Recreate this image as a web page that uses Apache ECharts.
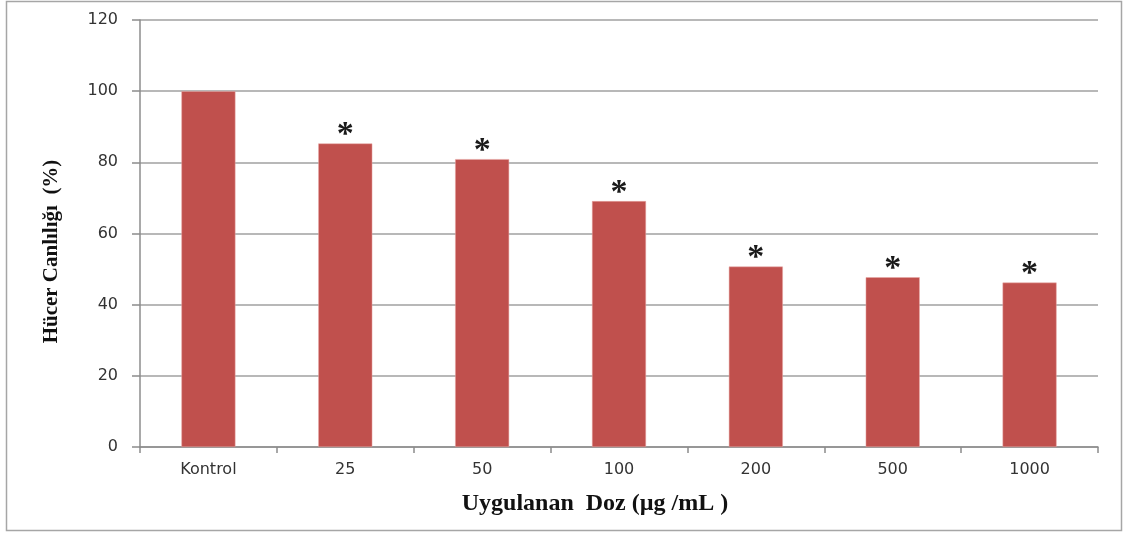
<!DOCTYPE html>
<html>
<head>
<meta charset="utf-8">
<script src="https://cdn.jsdelivr.net/npm/echarts@6/dist/echarts.min.js"></script>
<style>
  html, body { margin: 0; padding: 0; background: #fff; }
  #chart { width: 1123px; height: 534px; }
</style>
</head>
<body>
<div id="chart"></div>
<script>
// doz kategorileri
var doses = ["Kontrol", "25", "50", "100", "200", "500", "1000"];
// hücre canlılığı (%)
var viability = [100, 85.3, 80.9, 69.1, 50.7, 47.7, 46.2];
// anlamlılık işareti
var marks = ["", "*", "*", "*", "*", "*", "*"];
var yTicks = [0, 20, 40, 60, 80, 100, 120];

var myChart = echarts.init(document.getElementById("chart"));
myChart.setOption({
  animation: false,
  backgroundColor: "#fff",
  grid: {
    left: 140,
    right: 25,
    top: 20,
    bottom: 87,
  },
  graphic: [
    {
      type: "rect",
      shape: { x: 6.5, y: 1.5, width: 1115, height: 529 },
      style: { fill: "none", stroke: "#a6a6a6", lineWidth: 1.5 },
      silent: true,
    },
  ],
  xAxis: {
    type: "category",
    data: doses,
    name: "Uygulanan  Doz (µg /mL )",
    nameLocation: "middle",
    nameGap: 45,
    nameTextStyle: {
      fontFamily: "Liberation Serif",
      fontWeight: "bold",
      fontSize: 24,
      color: "#111",
      padding: [0, 48, 0, 0],
    },
    axisLine: { lineStyle: { color: "#8c8c8c", width: 1.5 } },
    axisTick: { show: true, length: 6, lineStyle: { color: "#8c8c8c", width: 1.5 } },
    axisLabel: {
      margin: 15,
      fontFamily: "DejaVu Sans",
      fontSize: 16,
      color: "#333",
    },
  },
  yAxis: {
    type: "value",
    min: 0,
    max: 120,
    interval: 20,
    name: "Hücer Canlılığı  (%)",
    nameLocation: "middle",
    nameGap: 78,
    nameRotate: 90,
    nameTextStyle: {
      fontFamily: "Liberation Serif",
      fontWeight: "bold",
      fontSize: 21,
      color: "#111",
      padding: [0, 36, 0, 0],
    },
    axisLine: { show: true, lineStyle: { color: "#8c8c8c", width: 1.5 } },
    axisTick: { show: true, length: 8, lineStyle: { color: "#8c8c8c", width: 1.5 } },
    splitLine: { lineStyle: { color: "#a0a0a0", width: 1.5 } },
    axisLabel: {
      margin: 22,
      fontFamily: "DejaVu Sans",
      fontSize: 16,
      color: "#333",
      formatter: function (v) {
        return yTicks.indexOf(v) >= 0 ? String(v) : "";
      },
    },
  },
  series: [
    {
      type: "bar",
      data: viability,
      barWidth: 54,
      itemStyle: {
        color: "#c0504d",
        borderColor: "#e8a9a7",
        borderWidth: 0.5,
      },
      label: {
        show: true,
        position: "top",
        distance: -9,
        fontFamily: "Liberation Serif",
        fontWeight: "bold",
        fontSize: 34,
        color: "#1a1a1a",
        formatter: function (p) {
          return marks[p.dataIndex];
        },
      },
    },
  ],
});
</script>
</body>
</html>
